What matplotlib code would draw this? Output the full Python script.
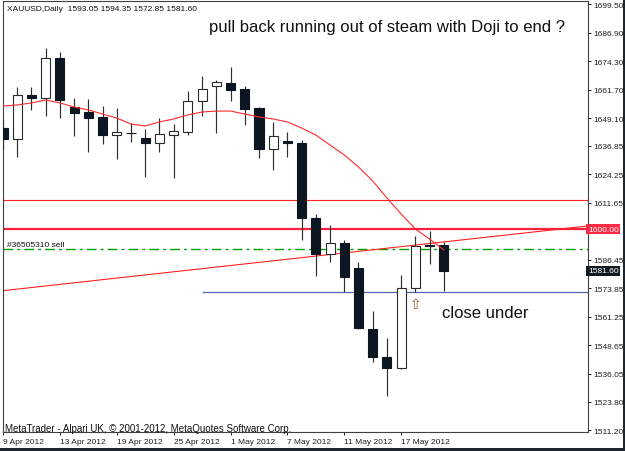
import matplotlib
matplotlib.use("Agg")
import matplotlib.pyplot as plt
import matplotlib.patches as mpatches
import pandas as pd

# XAUUSD daily bars, 9 Apr - 22 May 2012
dates = pd.bdate_range("2012-04-09", "2012-05-22")
opens = [1644.7, 1639.8, 1659.3, 1658.0, 1675.7, 1654.0, 1651.8, 1649.6,
         1641.6, 1642.7, 1640.3, 1638.1, 1641.6, 1642.9, 1656.6, 1663.3,
         1664.6, 1662.0, 1653.6, 1635.4, 1638.9, 1638.1, 1604.9, 1589.0,
         1593.9, 1582.8, 1555.9, 1543.5, 1538.6, 1574.0, 1593.0, 1593.05]
highs = [1648.7, 1662.8, 1662.8, 1680.1, 1678.3, 1658.0, 1657.5, 1654.4,
         1653.6, 1646.9, 1644.3, 1649.1, 1646.5, 1661.1, 1667.7, 1665.9,
         1671.7, 1663.3, 1653.8, 1647.4, 1642.9, 1639.4, 1606.7, 1601.8,
         1595.2, 1585.5, 1563.8, 1551.9, 1579.7, 1597.0, 1599.2, 1594.35]
lows = [1635.4, 1631.9, 1652.7, 1650.0, 1649.1, 1641.2, 1634.1, 1637.6,
        1631.0, 1638.5, 1623.0, 1634.1, 1622.6, 1641.6, 1650.0, 1642.5,
        1656.6, 1646.0, 1631.4, 1626.1, 1631.9, 1595.2, 1579.3, 1585.5,
        1572.2, 1555.9, 1541.3, 1526.2, 1538.2, 1572.2, 1584.6, 1572.85]
closes = [1639.8, 1659.3, 1658.0, 1675.7, 1657.1, 1651.5, 1649.1, 1641.6,
          1642.9, 1642.5, 1638.1, 1642.1, 1643.4, 1656.6, 1662.0, 1665.0,
          1661.5, 1653.1, 1635.4, 1641.2, 1638.1, 1604.9, 1589.0, 1593.9,
          1578.8, 1556.3, 1543.5, 1538.6, 1574.0, 1592.5, 1592.5, 1581.60]
ma_vals = [1654.4, 1654.9, 1655.8, 1657.1, 1655.8, 1654.0, 1652.7, 1650.9,
           1649.1, 1646.5, 1645.6, 1647.4, 1648.7, 1650.5, 1651.8, 1652.2,
           1652.2, 1650.9, 1649.6, 1648.7, 1647.4, 1644.7, 1641.6, 1637.2,
           1632.8, 1627.5, 1621.3, 1613.8, 1606.7, 1600.1, 1595.6, 1590.8]

level_upper = 1613.0
level_1600 = 1600.00
level_sell = 1591.2
level_close = 1572.3
close_line_from = 14          # bar where the "close under" line starts
trend_a = (0, 1572.8)
trend_b = (31, 1594.35)

y_ticks = [1699.50, 1686.90, 1674.30, 1661.70, 1649.10, 1636.85, 1624.25,
           1611.65, 1586.45, 1573.85, 1561.25, 1548.65, 1536.05, 1523.80,
           1511.20]

W, H = 625, 452
plt.rcParams['font.family'] = ['Liberation Sans', 'DejaVu Sans']


def px(x, y):
    return x / W, 1 - y / H


fig = plt.figure(figsize=(W / 100, H / 100), dpi=100, facecolor='white')
ax = fig.add_axes([2.5 / W, 1 - 433 / H, 585.5 / W, 431 / H])
ax.set_xlim(-0.035, 41.14)
ax.set_ylim(1510.32, 1700.86)

idx = list(range(len(dates)))
up = [c >= o for o, c in zip(opens, closes)]

# wicks then bodies
ax.vlines(idx, lows, highs, color='#2e2e2e', lw=0.85, zorder=3)
bottoms = [min(o, c) for o, c in zip(opens, closes)]
heights = [max(abs(c - o), 0.05) for o, c in zip(opens, closes)]
ax.bar(idx, heights, bottom=bottoms, width=0.64,
       color=['white' if u else '#0b1622' for u in up],
       edgecolor=['#2a2a2a' if u else '#0b1622' for u in up],
       linewidth=0.8, zorder=4)

# moving average
ax.plot(idx, ma_vals, color='#ff2a2a', lw=0.8, zorder=5)

# levels
ax.axhline(level_upper, color='#ff2020', lw=0.8, zorder=2)
ax.axhline(level_1600, color='#ff2040', lw=1.6, zorder=2)
ax.axhline(level_sell, color='#00a000', lw=1.0, ls=(0, (7, 3, 2, 3)), zorder=2)
ax.hlines(level_close, close_line_from, 41.14, color='#5565b0', lw=0.9, zorder=2)
ax.axline(trend_a, trend_b, color='#ff2020', lw=0.8, zorder=2)

# axes styling
for s in ax.spines.values():
    s.set_color('#404040')
    s.set_linewidth(0.8)
ax.yaxis.tick_right()
ax.set_yticks(y_ticks)
ax.set_yticklabels([f"{v:.2f}" for v in y_ticks])
ax.tick_params(axis='y', direction='out', length=2.5, width=0.7, pad=1.5,
               labelsize=6, colors='#202020')

tick_bars = idx[::4][:8]
ax.set_xticks(tick_bars)
ax.set_xticklabels([f"{dates[i].day} {dates[i]:%b %Y}" for i in tick_bars])
ax.tick_params(axis='x', direction='out', length=2.5, width=0.7, pad=1.5,
               labelsize=6, colors='#202020')
for lab in ax.get_xticklabels():
    lab.set_horizontalalignment('left')

# price boxes on the right scale
ax.text(1.0, level_1600, f"{level_1600:.2f}", transform=ax.get_yaxis_transform(),
        ha='left', va='center', fontsize=6, color='white',
        bbox=dict(boxstyle='square,pad=0.2', fc='#ff2a45', ec='none'),
        clip_on=False, zorder=6)
ax.text(1.0, closes[-1], f"{closes[-1]:.2f}", transform=ax.get_yaxis_transform(),
        ha='left', va='center', fontsize=6, color='white',
        bbox=dict(boxstyle='square,pad=0.2', fc='#101820', ec='none'),
        clip_on=False, zorder=6)

# texts
fig.text(*px(7, 9.5), "XAUUSD,Daily  " + " ".join(f"{v:.2f}" for v in
         (opens[-1], highs[-1], lows[-1], closes[-1])),
         fontsize=6, va='center', ha='left', color='#101010')
fig.text(*px(209, 31.7), "pull back running out of steam with Doji to end ?",
         fontsize=12, va='baseline', ha='left', color='#111111')
fig.text(*px(442, 318.3), "close under", fontsize=12, va='baseline',
         ha='left', color='#111111')
fig.text(*px(7, 245.5), "#36505310 sell", fontsize=6, va='center',
         ha='left', color='#101010')
fig.text(*px(5, 429.5), "MetaTrader - Alpari UK, \u00a9 2001-2012, MetaQuotes Software Corp.",
         fontsize=7, va='center', ha='left', color='#101010')
fig.text(*px(415.5, 305), "\u21e7", family=['DejaVu Sans'], fontsize=10,
         va='center', ha='center', color='#8a5a20')

# window frame bits
fig.patches.append(mpatches.Rectangle(px(0, 452), 1, 3.5 / H, transform=fig.transFigure,
                                      fc='#1e2630', ec='none'))
fig.patches.append(mpatches.Rectangle(px(623, 452), 2 / W, 1, transform=fig.transFigure,
                                      fc='#1e2630', ec='none'))

fig.savefig("out.png", dpi=100)
